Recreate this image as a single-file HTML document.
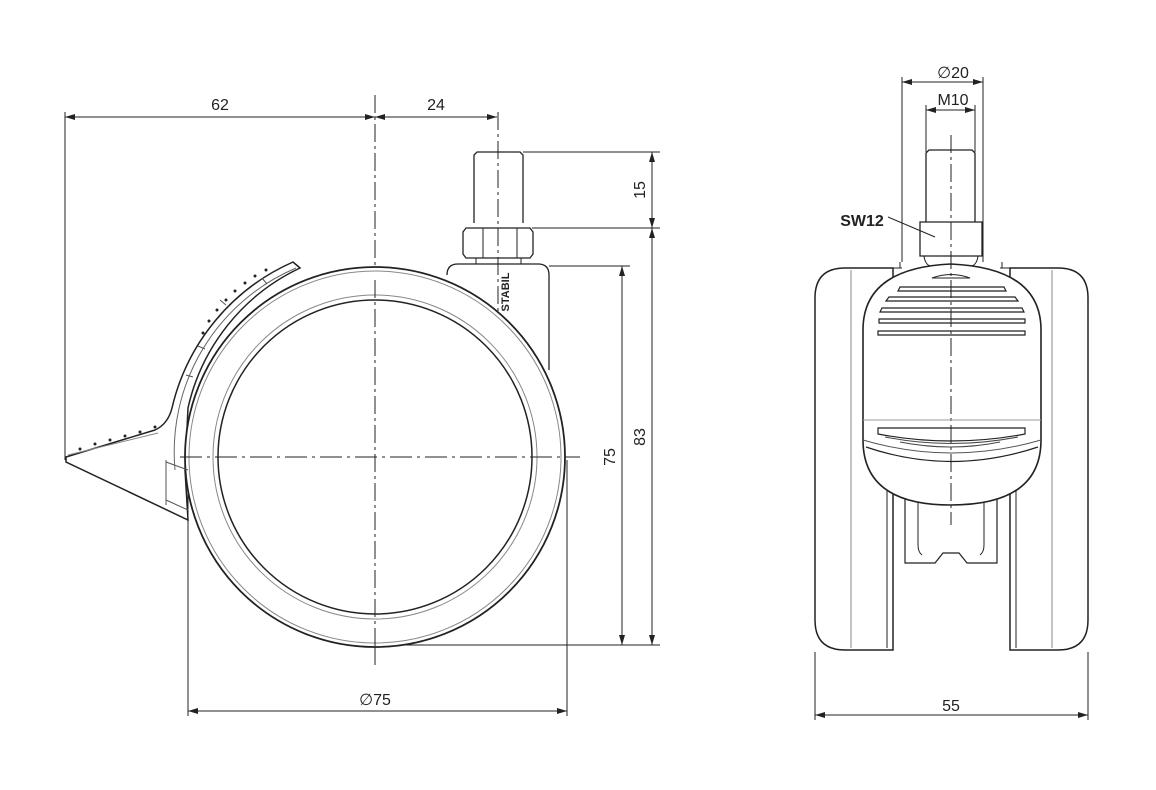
<!DOCTYPE html>
<html><head><meta charset="utf-8"><style>
html,body{margin:0;padding:0;background:#fff;}
svg{display:block;}
text{font-family:"Liberation Sans",sans-serif;font-size:16px;fill:#222;}
</style></head><body>
<svg width="1156" height="790" viewBox="0 0 1156 790" xmlns="http://www.w3.org/2000/svg">
<defs>
<marker id="a" viewBox="0 0 10 6" refX="10" refY="3" markerWidth="10" markerHeight="6" orient="auto-start-reverse"><path d="M0,0L10,3L0,6z" fill="#222"/></marker>
</defs>
<g stroke="#222" fill="none" stroke-width="1">
<line x1="65" y1="117" x2="375" y2="117" marker-start="url(#a)" marker-end="url(#a)"/>
<line x1="375" y1="117" x2="497" y2="117" marker-start="url(#a)" marker-end="url(#a)"/>
<line x1="65" y1="112" x2="65" y2="460"/>
<line x1="498" y1="112" x2="498" y2="330" stroke-dasharray="18,4,3,4"/>
<line x1="375" y1="95" x2="375" y2="665" stroke-dasharray="18,4,3,4"/>
<line x1="523" y1="152" x2="660" y2="152"/>
<line x1="532" y1="228" x2="660" y2="228"/>
<line x1="549" y1="266" x2="630" y2="266"/>
<line x1="375" y1="645" x2="660" y2="645"/>
<line x1="652" y1="152" x2="652" y2="228" marker-start="url(#a)" marker-end="url(#a)"/>
<line x1="652" y1="228" x2="652" y2="645" marker-start="url(#a)" marker-end="url(#a)"/>
<line x1="622" y1="266" x2="622" y2="645" marker-start="url(#a)" marker-end="url(#a)"/>
<line x1="188" y1="460" x2="188" y2="716"/>
<line x1="567" y1="460" x2="567" y2="716"/>
<line x1="188" y1="711" x2="567" y2="711" marker-start="url(#a)" marker-end="url(#a)"/>
<path d="M474,223 L474,155 L477,152 L520,152 L523,155 L523,223" stroke-width="1.3"/>
<path d="M466,228 L530,228 L533,232 L533,254 L530,258 L466,258 L463,254 L463,232 Z" stroke-width="1.3"/>
<line x1="483" y1="228" x2="483" y2="258"/><line x1="517" y1="228" x2="517" y2="258"/>
<path d="M476,258 L476,264 M521,258 L521,264"/>
<path d="M447,275 Q447,264 458,264 L538,264 Q549,264 549,275 L549,370" stroke-width="1.3"/>
<path d="M66,457 L155,430 Q168,424 172,408 A212,212 0 0 1 293,262 L300,268 A204,204 0 0 0 188,408 L185,470 L188,520 L66,462 Z" stroke-width="1.5" fill="#fff"/>
<circle cx="375" cy="457" r="190" stroke-width="1.8" fill="#fff"/>
<circle cx="375" cy="457" r="186" stroke="#888"/>
<circle cx="375" cy="457" r="162" stroke="#888"/>
<circle cx="375" cy="457" r="157" stroke-width="1.5"/>
<line x1="180" y1="457" x2="580" y2="457" stroke-dasharray="22,5,3,5"/>
<line x1="375" y1="280" x2="375" y2="665" stroke-dasharray="18,4,3,4"/>
<path d="M296,268 A200,200 0 0 0 175,470" stroke="#666"/>
<path d="M68,455 L158,433" stroke="#888"/>
<path d="M166,460 L166,505 M166,500 L188,510 M166,462 L188,470" stroke="#555"/>
<path d="M220,300 l6,5 M198,346 l7,3 M186,375 l7,2 M262,278 l5,6" stroke="#555"/>
<g fill="#222" stroke="none">
<circle cx="80" cy="449" r="1.5"/><circle cx="95" cy="444" r="1.5"/><circle cx="110" cy="440" r="1.5"/><circle cx="125" cy="436" r="1.5"/><circle cx="140" cy="432" r="1.5"/><circle cx="155" cy="427" r="1.5"/>
<circle cx="203" cy="333" r="1.5"/><circle cx="209" cy="321" r="1.5"/><circle cx="217" cy="310" r="1.5"/><circle cx="226" cy="300" r="1.5"/><circle cx="235" cy="291" r="1.5"/><circle cx="245" cy="283" r="1.5"/><circle cx="255" cy="276" r="1.5"/><circle cx="266" cy="270" r="1.5"/>
</g>
<line x1="902" y1="82" x2="983" y2="82" marker-start="url(#a)" marker-end="url(#a)"/>
<line x1="926" y1="110" x2="975" y2="110" marker-start="url(#a)" marker-end="url(#a)"/>
<line x1="902" y1="77" x2="902" y2="262"/><line x1="983" y1="77" x2="983" y2="262"/>
<line x1="926" y1="105" x2="926" y2="152"/><line x1="975" y1="105" x2="975" y2="152"/>
<path d="M926,222 L926,153 L929,150 L972,150 L975,153 L975,222" stroke-width="1.3"/>
<path d="M920,222 L982,222 L982,256 L920,256 Z" stroke-width="1.3" fill="#fff"/>
<path d="M924,256 Q925,264 930,266 L972,266 Q977,264 978,256"/>
<line x1="888" y1="217" x2="935" y2="237"/>
<path d="M845,268 L893,268 L893,650 L845,650 Q815,650 815,620 L815,298 Q815,268 845,268 Z" stroke-width="1.5" fill="#fff"/>
<line x1="851" y1="270" x2="851" y2="648" stroke="#888"/>
<line x1="887" y1="400" x2="887" y2="648"/>
<path d="M1058,268 L1010,268 L1010,650 L1058,650 Q1088,650 1088,620 L1088,298 Q1088,268 1058,268 Z" stroke-width="1.5" fill="#fff"/>
<line x1="1052" y1="270" x2="1052" y2="648" stroke="#888"/>
<line x1="1016" y1="400" x2="1016" y2="648"/>
<path d="M905,495 L905,563 L935,563 L943,553 L959,553 L967,563 L997,563 L997,495" stroke-width="1.2" fill="#fff"/>
<path d="M918,500 L918,545 Q918,552 922,555 M984,500 L984,545 Q984,552 980,555"/>
<path d="M951,264 Q1041,268 1041,330 L1041,440 Q1041,505 951,505 Q863,505 863,440 L863,330 Q863,268 951,264 Z" stroke-width="1.6" fill="#fff"/>
<line x1="951" y1="135" x2="951" y2="525" stroke-dasharray="18,4,3,4"/>
<line x1="863" y1="420" x2="1041" y2="420" stroke="#999"/>
<path d="M863,440 Q951,466 1041,440" stroke="#555"/>
<path d="M866,447 Q951,476 1038,447" stroke-width="1.2"/>
<path d="M932,278 Q951,271 970,278 Z"/>
<path d="M900,287 L1004,287 L1006,291 L898,291 Z M889,297 L1015,297 L1018,301 L886,301 Z M882,308 L1022,308 L1024,312 L880,312 Z M879,319 L1025,319 L1025,323 L879,323 Z M878,331 L1025,331 L1025,335 L878,335 Z" stroke-width="1.2"/>
<path d="M878,428 L1025,428 L1025,434 Q951,448 878,434 Z" stroke-width="1.2"/>
<path d="M885,437 Q951,450 1018,437 M900,442 Q951,452 1000,442" stroke="#444"/>
<path d="M900,262 L900,268 M1002,262 L1002,268 M893,268 L902,268 M1010,268 L1000,268"/>
<line x1="815" y1="652" x2="815" y2="720"/><line x1="1088" y1="652" x2="1088" y2="720"/>
<line x1="815" y1="715" x2="1088" y2="715" marker-start="url(#a)" marker-end="url(#a)"/>
</g>
<text x="220" y="110" text-anchor="middle">62</text>
<text x="436" y="110" text-anchor="middle">24</text>
<text x="375" y="705" text-anchor="middle">∅75</text>
<text transform="translate(645,190) rotate(-90)" text-anchor="middle">15</text>
<text transform="translate(645,437) rotate(-90)" text-anchor="middle">83</text>
<text transform="translate(615,457) rotate(-90)" text-anchor="middle">75</text>
<text transform="translate(509,292) rotate(-90)" text-anchor="middle" style="font-size:11px;font-weight:bold">STABIL</text>
<text x="953" y="78" text-anchor="middle">∅20</text>
<text x="953" y="105" text-anchor="middle">M10</text>
<text x="862" y="226" text-anchor="middle" style="font-weight:bold">SW12</text>
<text x="951" y="711" text-anchor="middle">55</text>
</svg>
</body></html>
